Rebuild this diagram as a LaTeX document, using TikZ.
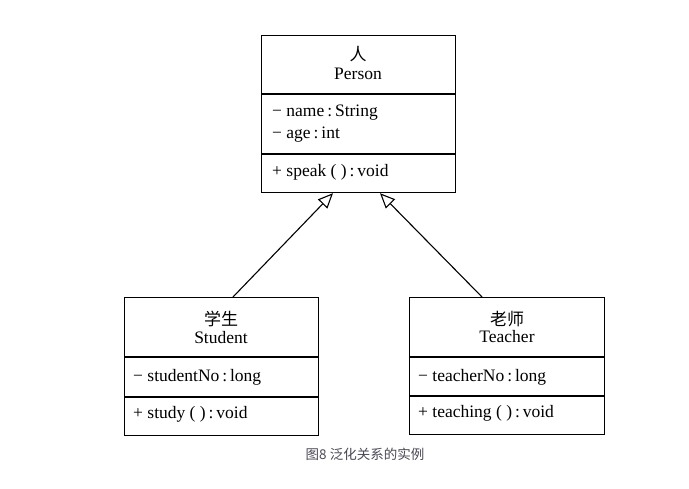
\documentclass[tikz,border=0pt]{standalone}
\usepackage{fontspec}
\setmainfont{Liberation Serif}
\newfontfamily\cjk{Noto Sans CJK SC}
\newfontfamily\capfont{Noto Sans CJK SC}
\usetikzlibrary{arrows.meta}
\definecolor{captiongray}{HTML}{4A4A55}
\tikzset{
  classbox/.style={draw, line width=1.2pt, anchor=north west, inner sep=0pt},
  divider/.style={line width=1.2pt},
  title/.style={font=\fontsize{17.5}{19}\selectfont, inner sep=0pt},
  cjktitle/.style={font=\cjk\fontsize{17}{18}\selectfont, inner sep=0pt},
  member/.style={font=\fontsize{17.5}{19}\selectfont, anchor=west, inner sep=0pt},
  gen/.style={line width=1.1pt, -{Triangle[open, length=15pt, width=13pt, fill=white]}},
}
\begin{document}
\begin{tikzpicture}[x=1pt, y=-1pt]
\useasboundingbox (0,0) rectangle (689,489);
\fill[white] (0,0) rectangle (689,489);

% Person
\node[classbox, minimum width=194pt, minimum height=157pt] (person) at (261,35) {};
\draw[divider] (261,94) -- (455,94);
\draw[divider] (261,154) -- (455,154);
\node[cjktitle] (pcn) at (358,54) {人};
\node[title] (pen) at (358,74) {Person};
\node[member] (pa1) at (272,113) {− name\,:\,String};
\node[member] (pa2) at (272,135) {− age\,:\,int};
\node[member] (pm1) at (272,172) {+ speak ( )\,:\,void};

% Student
\node[classbox, minimum width=194pt, minimum height=138pt] (student) at (124,297) {};
\draw[divider] (124,357) -- (318,357);
\draw[divider] (124,397) -- (318,397);
\node[cjktitle] (scn) at (221,319) {学生};
\node[title] (sen) at (221,338) {Student};
\node[member] (sa1) at (133,377) {− studentNo\,:\,long};
\node[member] (sm1) at (133,414) {+ study ( )\,:\,void};

% Teacher
\node[classbox, minimum width=195pt, minimum height=137pt] (teacher) at (409,297) {};
\draw[divider] (409,357) -- (604,357);
\draw[divider] (409,396) -- (604,396);
\node[cjktitle] (tcn) at (507,319) {老师};
\node[title] (ten) at (507,337) {Teacher};
\node[member] (ta1) at (418,377) {− teacherNo\,:\,long};
\node[member] (tm1) at (418,413) {+ teaching ( )\,:\,void};

% Generalisation
\draw[gen] ([xshift=109pt]student.north west) -- ([xshift=72pt]person.south west);
\draw[gen] ([xshift=73pt]teacher.north west) -- ([xshift=119pt]person.south west);

% Caption
\node[font=\capfont\fontsize{13.5}{15}\selectfont, text=captiongray, inner sep=0pt] (cap) at (365,454) {图8 泛化关系的实例};
\end{tikzpicture}
\end{document}
